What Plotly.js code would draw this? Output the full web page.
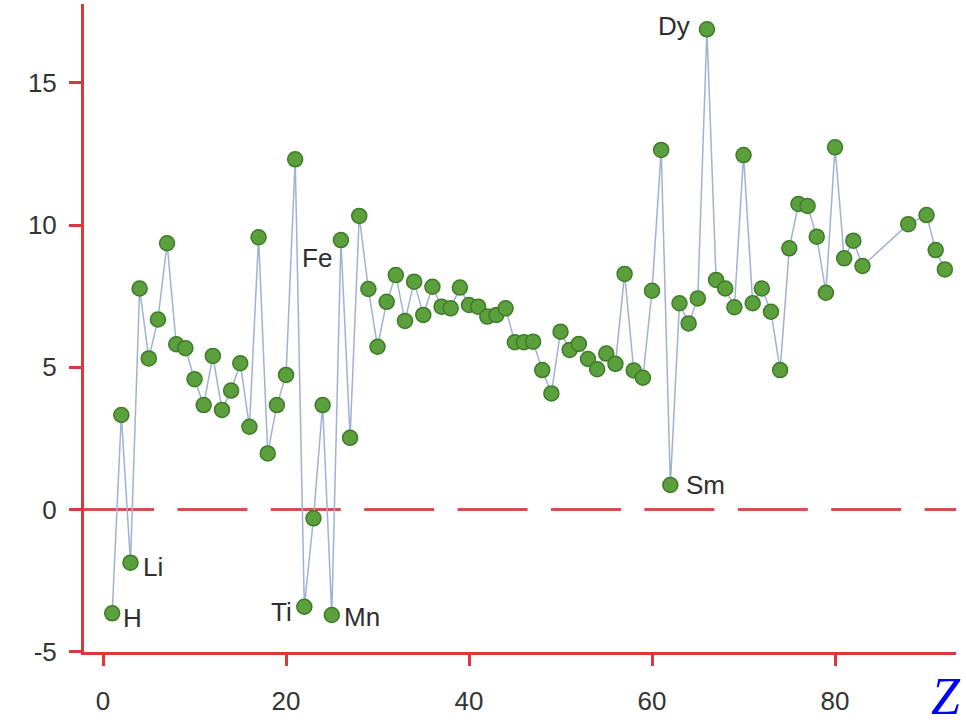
<!DOCTYPE html>
<html>
<head>
<meta charset="utf-8">
<script src="https://cdn.plot.ly/plotly-3.0.1.min.js"></script>
<style>html,body{margin:0;padding:0;background:#fff;}#chart{width:966px;height:724px;}</style>
</head>
<body>
<div id="chart"></div>
<script>
// Atomic number Z
var zValues = [1,2,3,4,5,6,7,8,9,10,11,12,13,14,15,16,17,18,19,20,
  21,22,23,24,25,26,27,28,29,30,31,32,33,34,35,36,37,38,39,40,
  41,42,43,44,45,46,47,48,49,50,51,52,53,54,55,56,57,58,59,60,
  61,62,63,64,65,66,67,68,69,70,71,72,73,74,75,76,77,78,79,80,
  81,82,83,88,90,91,92];
// Measured quantity for each Z
var yValues = [-3.65,3.32,-1.87,7.77,5.31,6.68,9.36,5.81,5.67,4.58,
  3.67,5.40,3.50,4.18,5.14,2.91,9.57,1.97,3.67,4.73,
  12.31,-3.42,-0.31,3.67,-3.71,9.47,2.52,10.32,7.75,5.72,
  7.30,8.24,6.63,8.01,6.84,7.83,7.13,7.07,7.80,7.19,
  7.13,6.78,6.84,7.07,5.88,5.88,5.90,4.90,4.08,6.25,
  5.61,5.82,5.29,4.93,5.48,5.12,8.28,4.89,4.63,7.69,
  12.64,0.86,7.25,6.54,7.42,16.88,8.07,7.77,7.11,12.46,
  7.25,7.77,6.95,4.90,9.18,10.74,10.67,9.59,7.62,12.73,
  8.83,9.45,8.56,10.03,10.35,9.12,8.44];
// Labelled elements
var labelNames = ['H','Li','Ti','Mn','Fe','Sm','Dy'];
var labelZ = [1,3,22,25,26,62,66];
var xTicks = [0,20,40,60,80];
var yTicks = [-5,0,5,10,15];

var RED = '#d8393c';
var XR = [-2.08, 93.22];
var YR = [-5.01, 17.77];

// label placement styles
var labelStyle = {
  'H':  {xanchor:'left',  xshift: 9,  yshift:-5},
  'Li': {xanchor:'left',  xshift: 11, yshift:-4},
  'Ti': {xanchor:'right', xshift:-10, yshift:-5},
  'Mn': {xanchor:'left',  xshift: 10, yshift:-2},
  'Fe': {xanchor:'right', xshift:-7,  yshift:-18},
  'Sm': {xanchor:'left',  xshift: 14, yshift:0},
  'Dy': {xanchor:'right', xshift:-15, yshift:3}
};

var annotations = labelNames.map(function(n, i){
  var z = labelZ[i];
  var y = yValues[zValues.indexOf(z)];
  var s = labelStyle[n];
  return {x:z, y:y, xref:'x', yref:'y', text:n, showarrow:false,
    xanchor:s.xanchor, yanchor:'middle', xshift:s.xshift, yshift:s.yshift,
    font:{family:'Liberation Sans, Arial, sans-serif', size:26, color:'#2e2e2e'}};
});
annotations.push({x:0.988, y:-0.069, xref:'paper', yref:'paper', text:'<i>Z</i>',
  showarrow:false, xanchor:'center', yanchor:'middle', borderpad:0,
  font:{family:'Liberation Serif, Times New Roman, serif', size:52, color:'#0000ff'}});

var trace = {
  x: zValues, y: yValues, mode:'lines+markers', type:'scatter',
  line:{color:'#9fb2d6', width:1.5},
  marker:{size:15, color:'#5ba03c', line:{color:'#3d7b28', width:1.5}},
  cliponaxis:false, hoverinfo:'skip'
};

var axisFont = {family:'Liberation Sans, Arial, sans-serif', size:26, color:'#333333'};

var layout = {
  width:966, height:724,
  margin:{l:84, r:10, t:4, b:72, pad:0},
  paper_bgcolor:'#ffffff', plot_bgcolor:'#ffffff',
  showlegend:false,
  xaxis:{range:XR, tickvals:xTicks, ticktext:xTicks.map(String), ticks:'outside', ticklen:11, tickwidth:3,
    tickcolor:RED, showline:true, linecolor:RED, linewidth:3, showgrid:false, zeroline:false,
    tickfont:axisFont, ticklabelstandoff:13, fixedrange:true},
  yaxis:{range:YR, tickvals:yTicks, ticktext:yTicks.map(String), ticks:'outside', ticklen:12, tickwidth:3,
    tickcolor:RED, showline:true, linecolor:RED, linewidth:3, showgrid:false, zeroline:false,
    tickfont:axisFont, ticklabelstandoff:7, fixedrange:true},
  shapes:[{type:'line', xref:'paper', yref:'y', x0:0, x1:1, y0:0, y1:0,
    line:{color:'#d4504f', width:3, dash:'70px,23.4px'}, layer:'below'}],
  annotations: annotations
};

Plotly.newPlot('chart', [trace], layout, {displayModeBar:false, staticPlot:true});
</script>
</body>
</html>
